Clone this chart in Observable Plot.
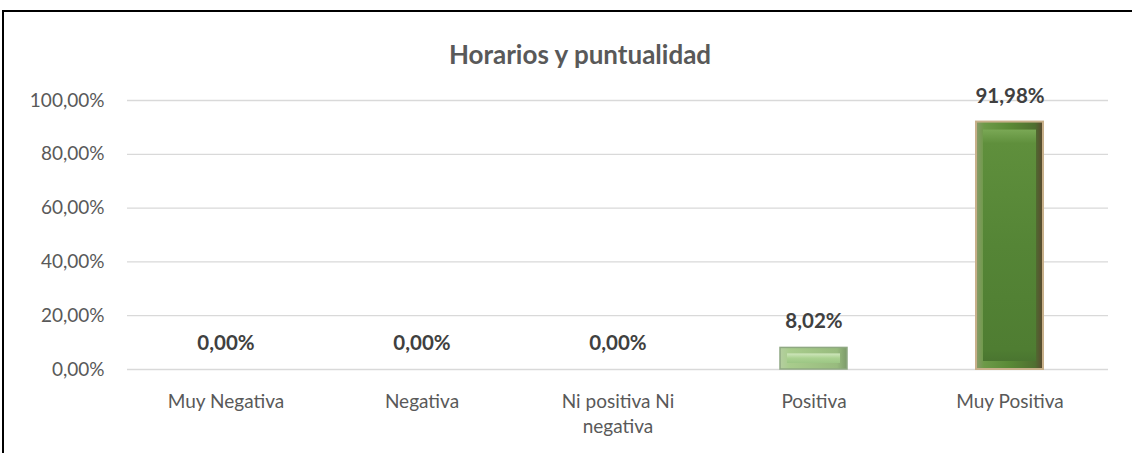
<!DOCTYPE html>
<html>
<head>
<meta charset="utf-8">
<script src="https://cdn.jsdelivr.net/npm/d3@7"></script>
<script src="https://cdn.jsdelivr.net/npm/@observablehq/plot@0.6"></script>
<style>
  html, body { margin: 0; padding: 0; background: #fff; }
  #wrap { position: relative; width: 1132px; height: 453px; overflow: hidden; }
  #frame { position: absolute; left: 2px; top: 10px; width: 1140px; height: 460px; border: 2px solid #000; box-sizing: border-box; }
  #title { position: absolute; top: 38px; left: 330px; width: 500px; text-align: center;
           font-family: Lato, "Open Sans", sans-serif; font-weight: bold; font-size: 26px; color: #595959; }
  #chart { position: absolute; left: 0; top: 0; }
</style>
</head>
<body>
<div id="wrap">
  <div id="frame"></div>
  <div id="title">Horarios y puntualidad</div>
  <div id="chart"></div>
</div>
<script>
const categories = ["Muy Negativa", "Negativa", "Ni positiva Ni negativa", "Positiva", "Muy Positiva"];
const tickLabels = ["Muy Negativa", "Negativa", "Ni positiva Ni\nnegativa", "Positiva", "Muy Positiva"];
const values = [0.0, 0.0, 0.0, 0.0802, 0.9198];
const yTicks = [0, 0.2, 0.4, 0.6, 0.8, 1.0];

const data = categories.map((c, i) => ({cat: c, value: values[i]}));
const fmt = v => (v * 100).toFixed(2).replace(".", ",") + "%";
const labelOf = new Map(categories.map((c, i) => [c, tickLabels[i]]));

const isP = d => d.cat === "Positiva";
const isMP = d => d.cat === "Muy Positiva";

const chart = Plot.plot({
  width: 1132,
  height: 453,
  marginLeft: 127,
  marginRight: 24,
  marginTop: 100,
  marginBottom: 84,
  style: {fontFamily: "Lato, 'Open Sans', sans-serif", background: "transparent", overflow: "visible"},
  x: {domain: categories, paddingInner: 0.66, paddingOuter: 0.33, label: null},
  y: {domain: [0, 1], label: null},
  marks: [
    Plot.gridY(yTicks, {stroke: "#d9d9d9", strokeOpacity: 1, strokeWidth: 1.3}),
    Plot.axisY(yTicks, {tickSize: 0, tickPadding: 23, tickFormat: fmt, fontSize: 19, fill: "#595959", label: null}),
    Plot.axisX({tickSize: 0, tickPadding: 20, tickFormat: c => labelOf.get(c), fontSize: 19, fill: "#595959", lineHeight: 1.35, label: null}),
    // Muy Positiva: outer edges
    Plot.barY(data, {filter: isMP, x: "cat", y: "value", fill: "url(#mpEdge)", stroke: "#c8b08a", strokeWidth: 2}),
    Plot.barY(data, {filter: isMP, x: "cat", y: "value", fill: "url(#mpFace)", insetTop: 8, insetBottom: 8, insetLeft: 7, insetRight: 7}),
    // Positiva
    Plot.barY(data, {filter: isP, x: "cat", y: "value", fill: "url(#pEdge)", stroke: "#8fa882", strokeWidth: 1.5}),
    Plot.barY(data, {filter: isP, x: "cat", y: "value", fill: "url(#pFace)", insetTop: 6, insetBottom: 6, insetLeft: 7, insetRight: 7}),
    Plot.text(data, {x: "cat", y: "value", text: d => fmt(d.value), dy: -26, lineAnchor: "middle",
                     fontSize: 20.5, fontWeight: "bold", fill: "#404040"})
  ]
});

const svg = d3.select(chart);
const defs = svg.insert("defs", ":first-child");
function lin(id, x2, y2, stops) {
  const g = defs.append("linearGradient").attr("id", id)
    .attr("x1", 0).attr("y1", 0).attr("x2", x2).attr("y2", y2);
  stops.forEach(([o, c]) => g.append("stop").attr("offset", o).attr("stop-color", c));
}
lin("mpEdge", 1, 0, [[0, "#8a9a6a"], [0.12, "#6d9a48"], [0.5, "#5a8a36"], [0.88, "#4f6f30"], [1, "#5a4630"]]);
lin("mpFace", 0, 1, [[0, "#7aa855"], [0.06, "#5f8f3c"], [0.5, "#558536"], [0.95, "#4f7d32"], [1, "#4a7530"]]);
lin("pEdge", 1, 0, [[0, "#b5cfa0"], [0.15, "#a8cc8c"], [0.85, "#98bb7e"], [1, "#7c9a6a"]]);
lin("pFace", 0, 1, [[0, "#cfe6bc"], [0.5, "#aad190"], [1, "#9cc684"]]);

document.getElementById("chart").appendChild(chart);
</script>
</body>
</html>
